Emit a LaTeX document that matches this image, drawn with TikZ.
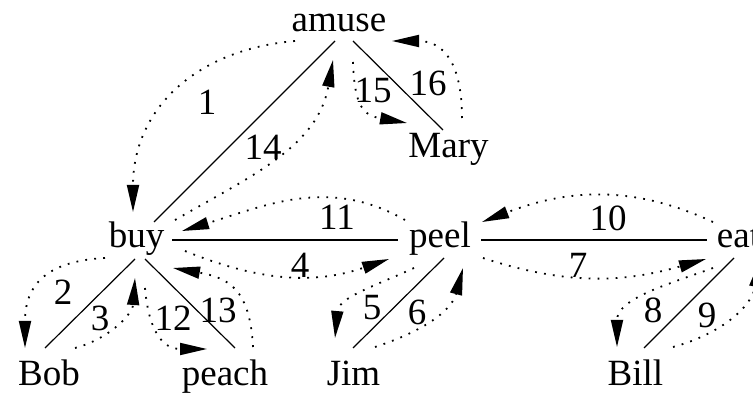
\documentclass[tikz,border=0pt]{standalone}
\usepackage{fontspec}
\setmainfont{Liberation Serif}
\usetikzlibrary{arrows.meta}
\tikzset{
  word/.style={font=\fontsize{37}{44}\selectfont,inner sep=0pt,anchor=base},
  num/.style={font=\fontsize{37}{44}\selectfont,inner sep=0pt},
  tree/.style={line width=1.2pt},
  walk/.style={-{Triangle[length=27pt,width=12pt]},line width=1.8pt,
               dash pattern=on 1.8pt off 7.2pt},
}

\begin{document}
\begin{tikzpicture}[x=1pt,y=1pt]
    \useasboundingbox (0,0) rectangle (753,394);

    % words
    \node[word] (amuse) at (339,362) {amuse};
    \node[word] (Mary) at (448.5,236) {Mary};
    \node[word] (buy) at (136.5,146) {buy};
    \node[word] (peel) at (440,146) {peel};
    \node[word] (eat) at (738.5,146) {eat};
    \node[word] (Bob) at (49,9) {Bob};
    \node[word] (peach) at (225,9) {peach};
    \node[word] (Jim) at (353.5,9) {Jim};
    \node[word] (Bill) at (635.5,9) {Bill};

    % tree edges
    \draw[tree] ([shift={(-4,-9)}]amuse.base) -- ([shift={(17.5,26)}]buy.base);
    \draw[tree] ([shift={(14,-9)}]amuse.base) -- ([shift={(-5.5,28)}]Mary.base);
    \draw[tree] ([shift={(35.5,8)}]buy.base) -- ([shift={(-42,8)}]peel.base);
    \draw[tree] ([shift={(41,8)}]peel.base) -- ([shift={(-31.5,8)}]eat.base);
    \draw[tree] ([shift={(-1.5,-11)}]buy.base) -- ([shift={(-4,37)}]Bob.base);
    \draw[tree] ([shift={(8.5,-11)}]buy.base) -- ([shift={(10,37)}]peach.base);
    \draw[tree] ([shift={(4,-10)}]peel.base) -- ([shift={(-0.5,37)}]Jim.base);
    \draw[tree] ([shift={(-4.5,-10)}]eat.base) -- ([shift={(8.5,37)}]Bill.base);

    % walk
    \draw[walk] ([shift={(-44,-9)}]amuse.base) to[out=185,in=90,looseness=1.1] ([shift={(-3.5,36)}]buy.base);
    \draw[walk] ([shift={(-31.5,-10)}]buy.base) to[out=183,in=90,looseness=1.3] ([shift={(-24,37)}]Bob.base);
    \draw[walk] ([shift={(26,37)}]Bob.base) to[out=15,in=-94] ([shift={(-1.5,-30)}]buy.base);
    \draw[walk] ([shift={(48.5,-3)}]buy.base) to[out=-22,in=199] ([shift={(-51,-11)}]peel.base);
    \draw[walk] ([shift={(-26,-20)}]peel.base) to[out=205,in=85] ([shift={(-18.5,47)}]Jim.base);
    \draw[walk] ([shift={(21.5,38)}]Jim.base) to[out=18,in=255] ([shift={(23,-20)}]peel.base);
    \draw[walk] ([shift={(43,-10)}]peel.base) to[out=-18,in=196] ([shift={(-32.5,-11)}]eat.base);
    \draw[walk] ([shift={(-25.5,-20)}]eat.base) to[out=200,in=90] ([shift={(-18.5,38)}]Bill.base);
    \draw[walk] ([shift={(37.5,38)}]Bill.base) to[out=15,in=260] ([shift={(21.5,-12)}]eat.base);
    \draw[walk] ([shift={(-25.5,26)}]eat.base) to[out=155,in=21] ([shift={(42,26)}]peel.base);
    \draw[walk] ([shift={(-35,28)}]peel.base) to[out=150,in=17] ([shift={(45.5,17)}]buy.base);
    \draw[walk] ([shift={(8.5,-40)}]buy.base) to[out=-85,in=180,looseness=1.3] ([shift={(-18,36)}]peach.base);
    \draw[walk] ([shift={(28,38)}]peach.base) to[out=93,in=-10,looseness=1.3] ([shift={(36.5,-20)}]buy.base);
    \draw[walk] ([shift={(38.5,28)}]buy.base) to[out=30,in=-100] ([shift={(-6,-28)}]amuse.base);
    \draw[walk] ([shift={(14,-30)}]amuse.base) to[out=-88,in=170,looseness=1.4] ([shift={(-41.5,35)}]Mary.base);
    \draw[walk] ([shift={(13.5,40)}]Mary.base) to[out=90,in=0,looseness=1.3] ([shift={(53,-9)}]amuse.base);

    % step numbers
    \node[num] (s1) at (207,292) {1};
    \node[num] (s2) at (63,102) {2};
    \node[num] (s3) at (100,76) {3};
    \node[num] (s4) at (300,129) {4};
    \node[num] (s5) at (372,86) {5};
    \node[num] (s6) at (417,82) {6};
    \node[num] (s7) at (578,129) {7};
    \node[num] (s8) at (653,84) {8};
    \node[num] (s9) at (707,79) {9};
    \node[num] (s10) at (608,176) {10};
    \node[num] (s11) at (337,177) {11};
    \node[num] (s12) at (173,76) {12};
    \node[num] (s13) at (218,84) {13};
    \node[num] (s14) at (263,247) {14};
    \node[num] (s15) at (373,304) {15};
    \node[num] (s16) at (428,311) {16};
\end{tikzpicture}
\end{document}
